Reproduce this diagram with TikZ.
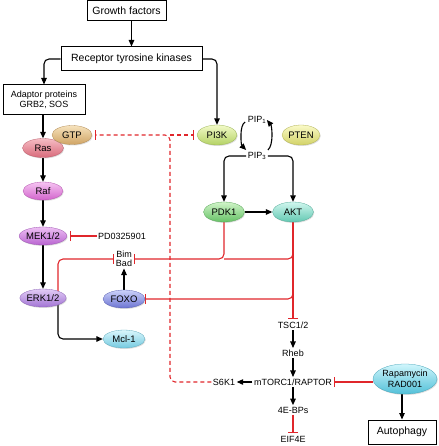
\documentclass[tikz,border=0pt]{standalone}
\usepackage{fontspec}
\setmainfont{Liberation Sans}
\usetikzlibrary{arrows.meta,shapes.geometric,calc,shadows}
\definecolor{redc}{HTML}{E0262B}
\definecolor{rasT}{HTML}{F6BCC4}\definecolor{rasB}{HTML}{D86A7A}
\definecolor{gtpT}{HTML}{F6E2BC}\definecolor{gtpB}{HTML}{D0A464}
\definecolor{rafT}{HTML}{F6C4F2}\definecolor{rafB}{HTML}{D264CC}
\definecolor{mekT}{HTML}{EEC0F4}\definecolor{mekB}{HTML}{B864D0}
\definecolor{erkT}{HTML}{E2CCF6}\definecolor{erkB}{HTML}{A274D4}
\definecolor{foxT}{HTML}{CCD2FA}\definecolor{foxB}{HTML}{6C74D2}
\definecolor{mclT}{HTML}{DAF6FC}\definecolor{mclB}{HTML}{74CAE0}
\definecolor{pikT}{HTML}{F2FAC8}\definecolor{pikB}{HTML}{B4D264}
\definecolor{ptnT}{HTML}{FAFAC8}\definecolor{ptnB}{HTML}{D2D266}
\definecolor{pdkT}{HTML}{D0F4C8}\definecolor{pdkB}{HTML}{66C266}
\definecolor{aktT}{HTML}{D0F6EE}\definecolor{aktB}{HTML}{62C8B2}
\definecolor{rapT}{HTML}{D0F6FC}\definecolor{rapB}{HTML}{52C0D8}
\pgfdeclarelayer{bg}
\pgfsetlayers{bg,main}
\tikzset{
  box/.style={draw, line width=1pt, inner sep=0pt, font=\fontsize{10.5}{12}\selectfont},
  lab/.style={inner sep=1.5pt, font=\fontsize{9}{10}\selectfont},
  ell/.style={ellipse, minimum width=41pt, minimum height=19pt, inner sep=0pt,
    font=\fontsize{9.5}{10}\selectfont, line width=0.3pt,
    drop shadow={shadow xshift=0.8pt, shadow yshift=-1pt, opacity=0.25}},
  arr/.style={draw=black, line width=1.1pt, -{Triangle[length=6.5pt,width=5.5pt]}},
  redl/.style={draw=redc, line width=1.1pt},
  inh/.style={redl, -{Bar[width=10pt,line width=1.1pt]}},
  dinh/.style={inh, dash pattern=on 4pt off 3pt}
}
\begin{document}
\begin{tikzpicture}[x=1pt,y=-1pt]
\useasboundingbox (0,0) rectangle (438,446);
% boxes
\node[box, minimum width=79pt, minimum height=20pt] (gf) at (126.5,11) {Growth factors};
\node[box, minimum width=141pt, minimum height=24pt] (rtk) at (131.5,59) {Receptor tyrosine kinases};
\node[box, minimum width=82pt, minimum height=30pt, align=center, font=\fontsize{9}{10}\selectfont] (adapt) at (44,100) {Adaptor proteins\\GRB2, SOS};
\node[box, minimum width=68pt, minimum height=24pt] (auto) at (402,432) {Autophagy};
% ellipses
\node[ell, top color=rasT, bottom color=rasB, draw=rasB!85!black] (ras) at (43,148) {Ras};
\node[ell, minimum width=40pt, top color=gtpT, bottom color=gtpB, draw=gtpB!85!black] (gtp) at (72,135) {GTP};
\node[ell, minimum width=40pt, minimum height=18pt, top color=rafT, bottom color=rafB, draw=rafB!85!black] (raf) at (43,191) {Raf};
\node[ell, minimum width=40pt, minimum height=18pt, top color=mekT, bottom color=mekB, draw=mekB!85!black] (mek) at (43,236) {MEK1/2};
\node[ell, minimum width=40pt, minimum height=18pt, top color=erkT, bottom color=erkB, draw=erkB!85!black] (erk) at (43,298) {ERK1/2};
\node[ell, minimum width=42pt, minimum height=18pt, top color=foxT, bottom color=foxB, draw=foxB!85!black] (foxo) at (124,299) {FOXO};
\node[ell, minimum width=42pt, minimum height=18pt, top color=mclT, bottom color=mclB, draw=mclB!85!black] (mcl) at (124,339) {Mcl-1};
\node[ell, minimum width=40pt, minimum height=20pt, top color=pikT, bottom color=pikB, draw=pikB!85!black] (pi3k) at (217,135) {PI3K};
\node[ell, minimum width=38pt, minimum height=20pt, top color=ptnT, bottom color=ptnB, draw=ptnB!85!black] (pten) at (301,135) {PTEN};
\node[ell, minimum width=41pt, minimum height=20pt, top color=pdkT, bottom color=pdkB, draw=pdkB!85!black] (pdk1) at (224,212) {PDK1};
\node[ell, minimum width=41pt, minimum height=20pt, top color=aktT, bottom color=aktB, draw=aktB!85!black] (akt) at (293,212) {AKT};
\node[ell, minimum width=64pt, minimum height=30pt, align=center, font=\fontsize{9}{10.5}\selectfont, top color=rapT, bottom color=rapB, draw=rapB!85!black] (rapa) at (405,379) {Rapamycin\\RAD001};
% text labels
\node[lab] (pd) at (122,236) {PD0325901};
\node[lab, align=center, font=\fontsize{9}{9}\selectfont] (bb) at (124,259) {Bim\\Bad};
\node[lab] (pip1) at (257,120) {PIP\textsubscript{1}};
\node[lab] (pip3) at (257,156) {PIP\textsubscript{3}};
\node[lab] (tsc) at (293,325) {TSC1/2};
\node[lab] (rheb) at (293,353) {Rheb};
\node[lab] (mtor) at (293,382) {mTORC1/RAPTOR};
\node[lab] (ebp) at (293,410) {4E-BPs};
\node[lab] (eif) at (293,439) {EIF4E};
\node[lab] (s6k1) at (224,382) {S6K1};
\coordinate (fb) at (170,135);
\begin{pgfonlayer}{bg}
\draw[arr] (rtk.north |- gf.south) -- (rtk.north);
\draw[arr, rounded corners=5pt] (rtk.west) -| (adapt.north);
\draw[arr, rounded corners=5pt] (rtk.east) -| (pi3k.north);
\draw[arr] (ras.north |- adapt.south) -- (ras.north);
\draw[arr] (ras) -- (raf);
\draw[arr] (raf) -- (mek);
\draw[arr] (mek) -- (erk);
\draw[inh, shorten >=3pt] (pd) -- (mek);
\draw[inh, rounded corners=5pt] ([xshift=15pt]erk.center) |- (bb.west);
\draw[arr, rounded corners=5pt] ([xshift=15pt]erk.center) |- (mcl.west);
\draw[arr] (foxo) -- (bb);
% PIP cycle
\draw[arr] ($(pip1.west)+(-1,2)$) .. controls +(-6,3) and +(-5,-5) .. ($(pip3.west)+(0,-6)$);
\draw[arr] ($(pip3.east)+(0,-6)$) .. controls +(6,-5) and +(5,6) .. ($(pip1.east)+(-1,0)$);
\draw[arr, rounded corners=5pt] (pip3.west) -| (pdk1.north);
\draw[arr, rounded corners=5pt] (pip3.east) -| (akt.north);
\draw[arr] (pdk1) -- (akt);
% AKT / PDK1 inhibitions
\draw[inh, rounded corners=5pt] (pdk1.center) |- (bb.east);
\draw[redl, rounded corners=5pt] (akt.center) |- (pdk1.center |- bb.east);
\draw[inh, rounded corners=5pt] (akt.center) |- (foxo.east);
\draw[inh, shorten >=1pt] (akt.center) -- (tsc.north);
% mTOR pathway
\draw[arr] (tsc) -- (rheb);
\draw[arr] (rheb) -- (mtor);
\draw[arr] (mtor) -- (ebp);
\draw[inh, shorten >=1pt] (ebp) -- (eif);
\draw[arr] (mtor) -- (s6k1);
\draw[inh] (rapa.west |- mtor.east) -- (mtor.east);
\draw[arr] (auto.north |- rapa.south) -- (auto.north);
% feedback
\draw[dinh, rounded corners=5pt, shorten >=3pt] (s6k1.west) -| (fb) -- (gtp.east);
\draw[dinh, shorten >=3pt] (fb) -- (pi3k.west);
\end{pgfonlayer}
\end{tikzpicture}
\end{document}
